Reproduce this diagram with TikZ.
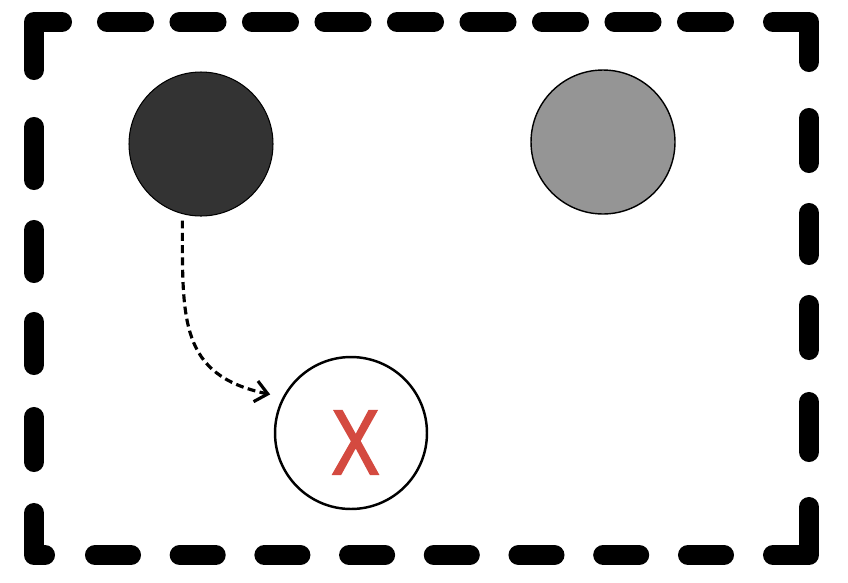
\documentclass[tikz,border=0pt]{standalone}
\usepackage{fontspec}
\newfontfamily\xfont[FakeBold=2.5]{Liberation Sans}
\usetikzlibrary{arrows.meta}
\definecolor{darkball}{HTML}{333333}
\definecolor{greyball}{HTML}{959595}
\definecolor{xred}{HTML}{D44A40}
\tikzset{
  frameline/.style={line width=11.4pt, line cap=round, line join=round, black},
  ball/.style={circle, inner sep=0pt, outer sep=0pt},
  flow/.style={line width=1.8pt, dash pattern=on 4.5pt off 2.5pt, black,
    -{Straight Barb[length=7pt,width=12pt,line width=1.8pt]}}
}
\begin{document}
\begin{tikzpicture}[x=0.02cm,y=-0.02cm]
\useasboundingbox (0,0) rectangle (848,582);
% dashed frame: corners
\draw[frameline] (34,70) -- (34,22) -- (62,22);
\draw[frameline] (773,22) -- (809,22) -- (809,62);
\draw[frameline] (809,507) -- (809,555) -- (773,555);
\draw[frameline] (45,555) -- (34,555) -- (34,513);
% top dashes
\foreach \s in {97,169.5,242,314.5,387,459.5,532,604.5,677}
  \draw[frameline] (\s+10,22) -- (\s+47,22);
% bottom dashes
\foreach \s in {85,169.7,254.4,339.1,423.8,508.5,593.2,678}
  \draw[frameline] (\s+10,555) -- (\s+46,555);
% left dashes
\foreach \a/\b in {117/190,220/283,312/375,407/472}
  \draw[frameline] (34,\a+10) -- (34,\b-10);
% right dashes
\foreach \a/\b in {108/173,203/265,295/360,392/462}
  \draw[frameline] (809,\a+10) -- (809,\b-10);
% balls
\node[ball, fill=darkball, draw=black, line width=0.6pt, minimum size=2.88cm] (dark) at (201,144) {};
\node[ball, fill=greyball, draw=black, line width=0.8pt, minimum size=2.88cm] (grey) at (603,142) {};
\node[ball, fill=white, draw=black, line width=1.4pt, minimum size=3.04cm] (target) at (351,433) {};
\node[inner sep=0pt, text=xred] (xmark) at (355.5,442.5)
  {\xfont\fontsize{52pt}{52pt}\selectfont\scalebox{0.78}[1]{X}};
% arrow
\draw[flow, shorten <=4pt, shorten >=8pt] (dark.255) to[out=-90, in=168, looseness=1.3] (target.152);
\end{tikzpicture}
\end{document}
